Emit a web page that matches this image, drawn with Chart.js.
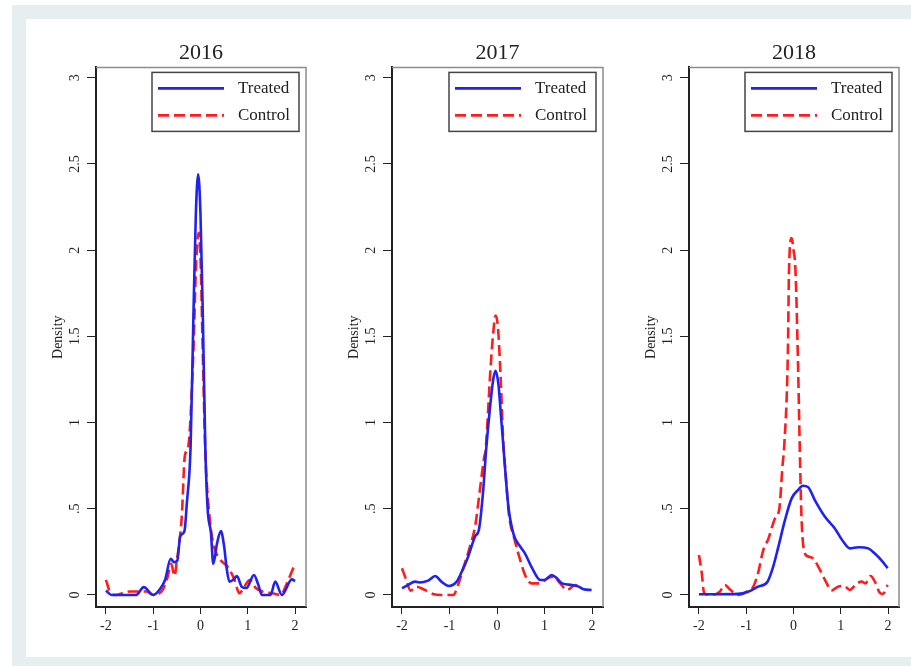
<!DOCTYPE html>
<html>
<head>
<meta charset="utf-8">
<title>Density by year</title>
<script src="https://cdn.jsdelivr.net/npm/chart.js@4.4.1/dist/chart.umd.min.js"></script>
<style>
  html, body { margin: 0; padding: 0; background: #fff; width: 911px; height: 666px; overflow: hidden; }
  #band { position: absolute; left: 12px; top: 5px; width: 899px; height: 661px; background: #e6eef0; }
  #sheet { position: absolute; left: 26px; top: 19px; width: 885px; height: 638px; background: #fff; }
  canvas { position: absolute; top: 37px; }
</style>
</head>
<body>
<div id="band"></div>
<div id="sheet"></div>
<canvas id="c2016" width="260" height="606" style="left:50px"></canvas>
<canvas id="c2017" width="261" height="606" style="left:346px"></canvas>
<canvas id="c2018" width="260" height="606" style="left:643px"></canvas>
<script>
const years = ['2016', '2017', '2018'];
const seriesNames = ['Treated', 'Control'];
const xTickVals = [-2, -1, 0, 1, 2];
const xTickLabels = ['-2', '-1', '0', '1', '2'];
const yTickVals = [0, 0.5, 1, 1.5, 2, 2.5, 3];
const yTickLabels = ['0', '.5', '1', '1.5', '2', '2.5', '3'];

// 2016
const treatedX2016 = [-2.0, -1.88, -1.36, -1.2, -1.0, -0.86, -0.75, -0.63, -0.56, -0.49, -0.43, -0.34, -0.29, -0.21, -0.15, -0.1, -0.05, 0.0, 0.05, 0.1, 0.15, 0.22, 0.27, 0.35, 0.43, 0.5, 0.55, 0.61, 0.7, 0.77, 0.87, 0.97, 1.13, 1.22, 1.3, 1.48, 1.58, 1.72, 1.93, 2.0];
const treatedY2016 = [0.025, 0, 0, 0.045, 0, 0.033, 0.087, 0.21, 0.19, 0.2, 0.34, 0.37, 0.53, 0.86, 1.62, 2.2, 2.44, 2.2, 1.6, 0.87, 0.5, 0.36, 0.18, 0.3, 0.37, 0.28, 0.16, 0.077, 0.09, 0.11, 0.048, 0.04, 0.116, 0.06, 0, 0, 0.077, 0, 0.09, 0.08];
const controlX2016 = [-2.0, -1.9, -1.8, -1.5, -1.15, -1.0, -0.8, -0.7, -0.62, -0.55, -0.5, -0.4, -0.33, -0.26, -0.15, -0.095, -0.04, 0.0, 0.046, 0.1, 0.12, 0.22, 0.31, 0.4, 0.58, 0.72, 0.82, 0.93, 1.04, 1.17, 1.31, 1.52, 1.69, 1.83, 1.98];
const controlY2016 = [0.087, 0.01, 0, 0.02, 0.02, 0, 0.03, 0.1, 0.18, 0.11, 0.2, 0.44, 0.81, 0.86, 1.42, 1.91, 2.1, 1.95, 1.42, 0.84, 0.707, 0.38, 0.26, 0.21, 0.16, 0.087, 0.01, 0.05, 0.087, 0.04, 0.02, 0.01, 0, 0.07, 0.17];

// 2017
const treatedX2017 = [-2, -1.87, -1.73, -1.63, -1.45, -1.3, -1.17, -1.01, -0.85, -0.75, -0.61, -0.46, -0.38, -0.29, -0.23, -0.15, -0.08, -0.03, 0.03, 0.08, 0.14, 0.24, 0.35, 0.49, 0.59, 0.73, 0.91, 1.01, 1.15, 1.26, 1.37, 1.58, 1.72, 1.82, 1.99];
const treatedY2017 = [0.039, 0.058, 0.077, 0.072, 0.083, 0.11, 0.077, 0.052, 0.077, 0.13, 0.22, 0.34, 0.38, 0.61, 0.84, 1.08, 1.25, 1.3, 1.22, 1.05, 0.84, 0.51, 0.35, 0.28, 0.24, 0.16, 0.087, 0.087, 0.116, 0.096, 0.067, 0.058, 0.048, 0.033, 0.029];
const controlX2017 = [-2, -1.91, -1.82, -1.7, -1.52, -1.35, -1.17, -0.92, -0.82, -0.71, -0.57, -0.46, -0.36, -0.27, -0.24, -0.14, -0.08, -0.03, 0.02, 0.07, 0.14, 0.17, 0.25, 0.38, 0.49, 0.59, 0.73, 0.91, 1.05, 1.19, 1.33, 1.47, 1.65, 1.7];
const controlY2017 = [0.155, 0.087, 0.025, 0.048, 0.029, 0.006, 0, 0, 0.058, 0.155, 0.28, 0.4, 0.61, 0.8, 0.84, 1.3, 1.52, 1.62, 1.55, 1.3, 0.84, 0.74, 0.47, 0.31, 0.2, 0.116, 0.067, 0.067, 0.096, 0.106, 0.067, 0.029, 0.058, 0.05];

// 2018
const treatedX2018 = [-2, -1.66, -1.17, -0.96, -0.75, -0.55, -0.43, -0.32, -0.18, -0.04, 0.1, 0.2, 0.31, 0.45, 0.66, 0.87, 1.05, 1.19, 1.37, 1.58, 1.72, 1.86, 1.99];
const treatedY2018 = [0.004, 0.004, 0.006, 0.019, 0.048, 0.077, 0.164, 0.28, 0.435, 0.56, 0.61, 0.633, 0.625, 0.55, 0.455, 0.387, 0.31, 0.27, 0.277, 0.27, 0.24, 0.2, 0.155];
const controlX2018 = [-2.0, -1.94, -1.89, -1.73, -1.56, -1.45, -1.35, -1.17, -0.99, -0.85, -0.75, -0.64, -0.54, -0.39, -0.3, -0.23, -0.2, -0.12, -0.095, -0.04, 0.0, 0.04, 0.09, 0.14, 0.17, 0.24, 0.35, 0.42, 0.56, 0.7, 0.8, 0.94, 1.07, 1.19, 1.33, 1.44, 1.52, 1.63, 1.72, 1.82, 1.89, 1.99];
const controlY2018 = [0.232, 0.126, 0.01, 0, 0.019, 0.058, 0.033, 0, 0.019, 0.048, 0.126, 0.26, 0.32, 0.445, 0.5, 0.76, 0.85, 1.4, 1.89, 2.07, 2.0, 1.89, 1.4, 0.75, 0.44, 0.24, 0.22, 0.21, 0.145, 0.068, 0.025, 0.048, 0.052, 0.029, 0.064, 0.077, 0.067, 0.11, 0.077, 0.014, 0.006, 0.058];

const panels = {
  '2016': [[treatedX2016, treatedY2016], [controlX2016, controlY2016]],
  '2017': [[treatedX2017, treatedY2017], [controlX2017, controlY2017]],
  '2018': [[treatedX2018, treatedY2018], [controlX2018, controlY2018]]
};

const SERIF = '"Liberation Serif", "DejaVu Serif", serif';
const INK = '#222';
Chart.defaults.font.family = SERIF;
Chart.defaults.color = INK;

const toPoints = (xs, ys) => xs.map((x, i) => ({ x: x, y: ys[i] }));

// gray top/right edges of the plot box plus the boxed legend in the corner
const frameAndKey = {
  id: 'frameAndKey',
  afterDraw(chart) {
    const { ctx, chartArea: a } = chart;
    ctx.save();
    ctx.strokeStyle = '#8c8c8c';
    ctx.lineWidth = 1.5;
    ctx.beginPath();
    ctx.moveTo(a.left, a.top);
    ctx.lineTo(a.right, a.top);
    ctx.lineTo(a.right, a.bottom);
    ctx.stroke();

    const w = 147, h = 59;
    const left = a.right - 7 - w, top = a.top + 5;
    ctx.fillStyle = '#fff';
    ctx.fillRect(left, top, w, h);
    ctx.strokeStyle = '#444';
    ctx.lineWidth = 1.5;
    ctx.strokeRect(left, top, w, h);

    chart.data.datasets.forEach((ds, i) => {
      const y = top + 16 + i * 27;
      ctx.strokeStyle = ds.borderColor;
      ctx.lineWidth = ds.borderWidth;
      ctx.setLineDash(ds.borderDash || []);
      ctx.beginPath();
      ctx.moveTo(left + 6, y);
      ctx.lineTo(left + 72, y);
      ctx.stroke();
      ctx.setLineDash([]);
      ctx.fillStyle = INK;
      ctx.font = '17px ' + SERIF;
      ctx.textBaseline = 'middle';
      ctx.textAlign = 'left';
      ctx.fillText(ds.label, left + 86, y);
    });
    ctx.restore();
  }
};

function drawPanel(year) {
  const [treated, control] = panels[year];
  new Chart(document.getElementById('c' + year), {
    type: 'line',
    data: {
      datasets: [
        { label: seriesNames[0], data: toPoints(treated[0], treated[1]), borderColor: '#1f22f0', borderWidth: 2.6, pointRadius: 0, cubicInterpolationMode: 'monotone' },
        { label: seriesNames[1], data: toPoints(control[0], control[1]), borderColor: '#ff1c1c', borderWidth: 2.6, borderDash: [11, 5], pointRadius: 0, cubicInterpolationMode: 'monotone' }
      ]
    },
    options: {
      responsive: false,
      animation: false,
      layout: { padding: { left: 0, right: 4, top: 0, bottom: 0 } },
      plugins: {
        legend: { display: false },
        tooltip: { enabled: false },
        title: { display: true, text: year, fullSize: false, color: INK, font: { size: 22, weight: 'normal' }, padding: { top: 3, bottom: 1 } }
      },
      scales: {
        x: {
          type: 'linear', min: -2.21, max: 2.23, bounds: 'data',
          afterBuildTicks: s => { s.ticks = xTickVals.map(v => ({ value: v })); },
          afterFit: s => { s.height = 36; },
          ticks: { callback: (v, i) => xTickLabels[i], maxRotation: 0, padding: 4, font: { size: 14 }, color: INK },
          grid: { drawOnChartArea: false, tickLength: 7, color: INK },
          border: { color: INK, width: 2 }
        },
        y: {
          type: 'linear', min: -0.07, max: 3.06, bounds: 'data',
          afterBuildTicks: s => { s.ticks = yTickVals.map(v => ({ value: v })); },
          afterFit: s => { s.width = 46; },
          ticks: { callback: (v, i) => yTickLabels[i], minRotation: 90, maxRotation: 90, crossAlign: 'center', padding: 3, font: { size: 14 }, color: INK },
          grid: { drawOnChartArea: false, tickLength: 9, color: INK },
          border: { color: INK, width: 2 },
          title: { display: true, text: 'Density', padding: 0, font: { size: 14 }, color: INK }
        }
      }
    },
    plugins: [frameAndKey]
  });
}

years.forEach(drawPanel);
</script>
</body>
</html>
